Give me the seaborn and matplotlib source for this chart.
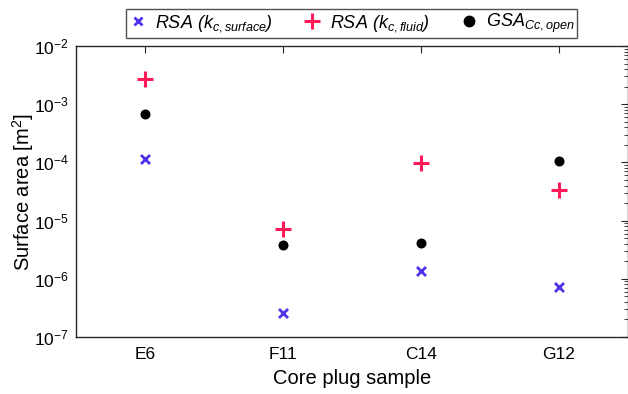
import numpy as np
import pandas as pd
import matplotlib
matplotlib.use("Agg")
import matplotlib.pyplot as plt
import seaborn as sns
from matplotlib.lines import Line2D

# Samples and measured surface areas [m^2]
samples = ["E6", "F11", "C14", "G12"]
rsa_surface = [1.14e-4, 2.6e-7, 1.36e-6, 7.2e-7]
rsa_fluid = [2.68e-3, 7.2e-6, 9.6e-5, 3.36e-5]
gsa_open = [6.8e-4, 3.8e-6, 4.1e-6, 1.06e-4]

series_labels = [
    r"RSA (k$_{c,surface}$)",
    r"RSA (k$_{c,fluid}$)",
    r"GSA$_{Cc,open}$",
]

sns.set_theme(style="white")
plt.rcParams["font.family"] = ["Liberation Sans", "DejaVu Sans"]
plt.rcParams["mathtext.fontset"] = "custom"
plt.rcParams["mathtext.rm"] = "Liberation Sans"
plt.rcParams["mathtext.it"] = "Liberation Sans:italic"
plt.rcParams["mathtext.bf"] = "Liberation Sans:bold"
plt.rcParams["text.color"] = "black"
plt.rcParams["axes.labelcolor"] = "black"

pos = np.arange(1, len(samples) + 1)
df = pd.DataFrame({
    "pos": np.tile(pos, 3),
    "area": rsa_surface + rsa_fluid + gsa_open,
    "series": np.repeat(series_labels, len(samples)),
})

fig = plt.figure(figsize=(6.28, 3.94), dpi=100)
ax = fig.add_axes([76 / 628, 1 - 337 / 394, 551.5 / 628, 291 / 394])

c_blue = "#5030E8"
c_red = "#FF1A5A"

sub = df[df.series == series_labels[0]]
sns.scatterplot(data=sub, x="pos", y="area", marker="x", s=42, color=c_blue,
                linewidth=2.0, ax=ax, legend=False, zorder=3)
sub = df[df.series == series_labels[1]]
sns.scatterplot(data=sub, x="pos", y="area", marker="+", s=125, color=c_red,
                linewidth=2.2, ax=ax, legend=False, zorder=3)
sub = df[df.series == series_labels[2]]
sns.scatterplot(data=sub, x="pos", y="area", marker="o", s=52, color="black",
                edgecolor="black", linewidth=0, ax=ax, legend=False, zorder=3)

ax.set_yscale("log")
ax.set_ylim(1e-7, 1e-2)
ax.set_xlim(0.5, 4.5)
ax.set_xticks(pos)
ax.set_xticklabels(samples)
ax.set_yticks([1e-7, 1e-6, 1e-5, 1e-4, 1e-3, 1e-2])
ax.yaxis.set_minor_locator(matplotlib.ticker.LogLocator(base=10, subs=np.arange(2, 10)))
ax.yaxis.set_minor_formatter(matplotlib.ticker.NullFormatter())

ax.tick_params(axis="both", which="both", direction="in", top=True, right=True,
               colors="#262626", labelcolor="black", labelsize=12.5)
ax.tick_params(axis="both", which="major", length=5, width=0.8)
ax.tick_params(axis="y", which="minor", length=3, width=0.6)
ax.tick_params(axis="x", which="minor", length=0)
ax.tick_params(axis="x", pad=7)
ax.tick_params(axis="y", pad=5)

for sp in ax.spines.values():
    sp.set_color("#262626")
    sp.set_linewidth(1.0)

ax.set_xlabel("Core plug sample", fontsize=14.5, labelpad=5)
ax.set_ylabel("Surface area [m$^2$]", fontsize=14.5)
ax.yaxis.set_label_coords(-0.072, 0.5)

handles = [
    Line2D([], [], linestyle="none", marker="x", markersize=6, markeredgewidth=2.0, color=c_blue),
    Line2D([], [], linestyle="none", marker="+", markersize=11, markeredgewidth=2.2, color=c_red),
    Line2D([], [], linestyle="none", marker="o", markersize=7.5, color="black"),
]
leg = ax.legend(handles, series_labels, loc="lower center", bbox_to_anchor=(0.5, 1.015),
                ncol=3, frameon=True, fancybox=False, edgecolor="#262626",
                prop={"size": 13, "style": "italic"},
                handlelength=1.0, handletextpad=0.45, columnspacing=1.7,
                borderpad=0.15, borderaxespad=0.2)
leg.get_frame().set_linewidth(1.0)

fig.savefig("out.png", dpi=100)
